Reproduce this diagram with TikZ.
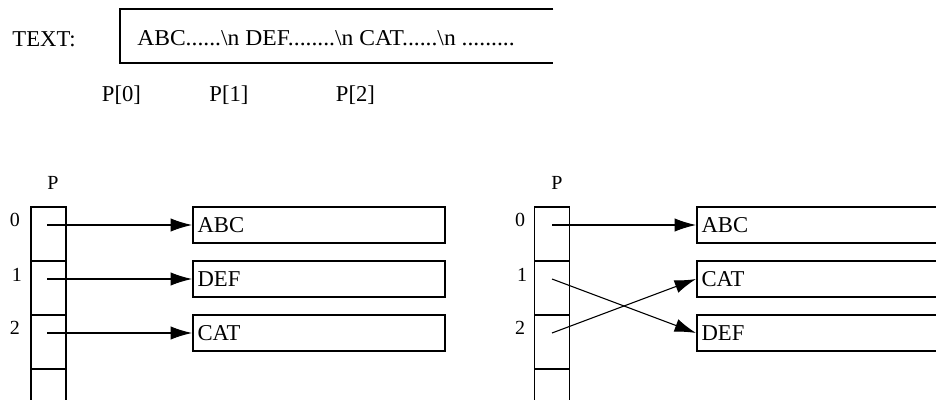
\documentclass[tikz,border=0pt]{standalone}
\usepackage{fontspec}
\usepackage{graphicx}
\setmainfont{Liberation Serif}
\usetikzlibrary{arrows.meta}
\begin{document}
\begin{tikzpicture}[x=0.75pt,y=-0.75pt,
  lbl/.style={font=\fontsize{17}{20}\selectfont, inner sep=0pt},
  idx/.style={font=\fontsize{15}{18}\selectfont, inner sep=0pt},
  cell/.style={draw, line width=1.4pt, minimum width=26.25pt, minimum height=40.5pt, inner sep=0pt},
  strbox/.style={draw, line width=1.4pt, font=\fontsize{17}{20}\selectfont, text width=182pt, inner xsep=3.5pt, inner ysep=0pt, minimum height=27pt, align=left, anchor=west},
  longbox/.style={strbox, text width=320pt},
  ptr/.style={line width=0.8pt, -{Latex[length=16pt,width=10pt]}},
  ]
\useasboundingbox (0,0) rectangle (936,400);
\clip (0,0) rectangle (936,400);

% top text line
\node[lbl] (textlbl) at (44,39) {TEXT:};
\node[minimum width=324.75pt, minimum height=40.5pt, inner sep=0pt] (tb) at (336.5,36) {};
\draw[line width=1.4pt] (tb.north east) -- (tb.north west) -- (tb.south west) -- (tb.south east);
\node[lbl, anchor=west] (tstr) at (137,38.5) {\scalebox{1.04}[1]{ABC......\textbackslash n DEF........\textbackslash n CAT......\textbackslash n .........}};
\node[lbl] (p0) at (121.5,95) {P[0]};
\node[lbl] (p1) at (229,95) {P[1]};
\node[lbl] (p2) at (355.5,95) {P[2]};

% left array
\node[idx] (lP) at (53,183) {P};
\node[cell] (lc0) at (48.5,234) {};
\node[cell] (lc1) at (48.5,288) {};
\node[cell] (lc2) at (48.5,342) {};
\node[cell] (lc3) at (48.5,396) {};
\node[idx] (li0) at (15,220) {0};
\node[idx] (li1) at (17,275) {1};
\node[idx] (li2) at (15,328) {2};
\node[strbox] (labc) at (192,225) {ABC};
\node[strbox] (ldef) at (192,279) {DEF};
\node[strbox] (lcat) at (192,333) {CAT};
\coordinate (ls0) at (47,225);
\coordinate (ls1) at (47,279);
\coordinate (ls2) at (47,333);
\draw[ptr] (ls0) -- (labc.west);
\draw[ptr] (ls1) -- (ldef.west);
\draw[ptr] (ls2) -- (lcat.west);

% right array
\node[idx] (rP) at (557,183) {P};
\node[cell] (rc0) at (552,234) {};
\node[cell] (rc1) at (552,288) {};
\node[cell] (rc2) at (552,342) {};
\node[cell] (rc3) at (552,396) {};
\node[idx] (ri0) at (520,220) {0};
\node[idx] (ri1) at (522,275) {1};
\node[idx] (ri2) at (520,328) {2};
\node[longbox] (rabc) at (696,225) {ABC};
\node[longbox] (rcat) at (696,279) {CAT};
\node[longbox] (rdef) at (696,333) {DEF};
\coordinate (rs0) at (552,225);
\coordinate (rs1) at (552,279);
\coordinate (rs2) at (552,333);
\draw[ptr] (rs0) -- (rabc.west);
\draw[ptr] (rs1) -- (rdef.west);
\draw[ptr] (rs2) -- (rcat.west);
\end{tikzpicture}
\end{document}
